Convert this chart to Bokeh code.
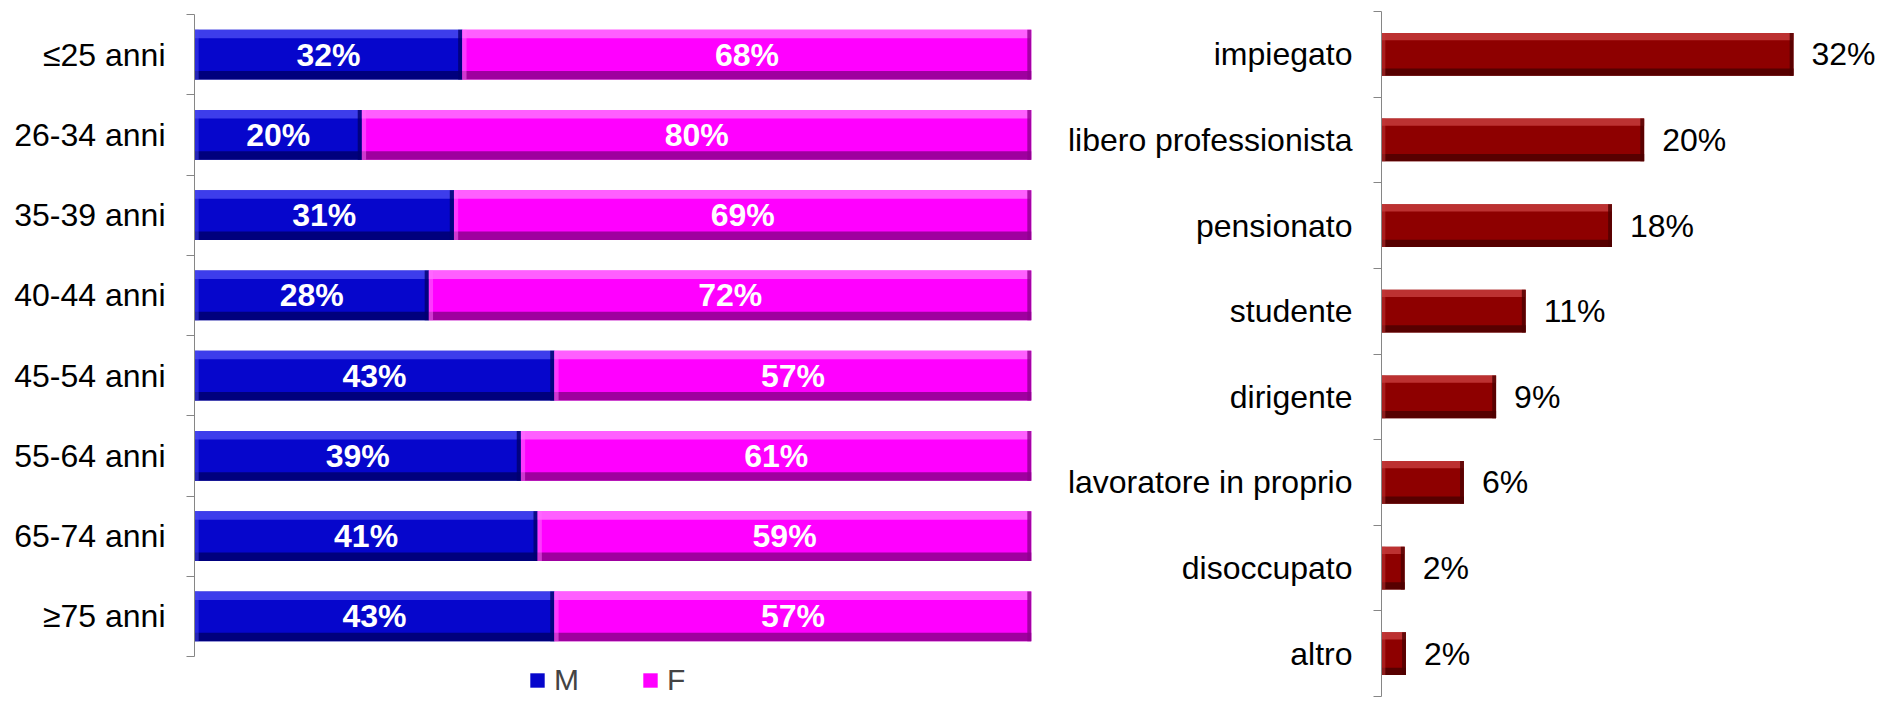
from bokeh.plotting import figure
from bokeh.models import Range1d, FixedTicker, Legend, LegendItem
from bokeh.layouts import row
from bokeh.embed import file_html
from bokeh.resources import INLINE
from bokeh.core.properties import value

# ---------------- data ----------------
age_groups = ["≤25 anni", "26-34 anni", "35-39 anni", "40-44 anni",
              "45-54 anni", "55-64 anni", "65-74 anni", "≥75 anni"]
male_pct = [32, 20, 31, 28, 43, 39, 41, 43]
female_pct = [68, 80, 69, 72, 57, 61, 59, 57]

professions = ["impiegato", "libero professionista", "pensionato", "studente",
               "dirigente", "lavoratore in proprio", "disoccupato", "altro"]
prof_pct = [32.0, 20.4, 17.9, 11.2, 8.9, 6.4, 1.8, 1.9]

FONT = "Liberation Sans"
AXIS_GREY = "#868686"


def setup_cat_axis(p, cats):
    n = len(cats)
    centers = [n - i - 0.5 for i in range(n)]
    bounds = [float(i) for i in range(n + 1)]
    ax = p.yaxis[0]
    ax.ticker = FixedTicker(ticks=centers, minor_ticks=bounds)
    ax.major_label_overrides = {c: name for c, name in zip(centers, cats)}
    ax.bounds = (0, n)
    ax.major_tick_out = 0
    ax.major_tick_in = 0
    ax.minor_tick_out = 8
    ax.minor_tick_in = 0
    ax.axis_line_color = AXIS_GREY
    ax.minor_tick_line_color = AXIS_GREY
    ax.major_label_standoff = 21
    ax.major_label_text_font = FONT
    ax.major_label_text_font_size = "32px"
    ax.major_label_text_color = "black"
    p.xaxis.visible = False
    p.xgrid.visible = False
    p.ygrid.visible = False
    p.outline_line_color = None
    return centers


def bevel_bars(p, y, left, right, height, base, light, dark, edge_w):
    main = p.hbar(y=y, left=left, right=right, height=height,
                  fill_color=base, line_color=None)
    s = 0.17 * height
    p.hbar(y=[v + height / 2 - s / 2 for v in y], left=left, right=right,
           height=s, fill_color=light, line_color=None, fill_alpha=0.85)
    p.hbar(y=[v - height / 2 + s / 2 for v in y], left=left, right=right,
           height=s, fill_color=dark, line_color=None, fill_alpha=0.85)
    p.hbar(y=y, left=[r - edge_w for r in right], right=right, height=height,
           fill_color=dark, line_color=None, fill_alpha=0.8)
    p.hbar(y=y, left=left, right=[l + edge_w for l in left], height=height,
           fill_color=light, line_color=None, fill_alpha=0.5)
    return main


# both frames share the same top and bottom (px from the page top)
FRAME_TOP = 11
FRAME_BOTTOM = 696
HEIGHT = 703
BAND_LEFT = 80.25  # px per age band; bands span y 14..656
n1 = len(age_groups)
y1_top = n1 + (14 - FRAME_TOP) / BAND_LEFT
y1_bot = -(FRAME_BOTTOM - 656) / BAND_LEFT

# ---------------- left chart ----------------
p1 = figure(width=1048, height=HEIGHT, output_backend="svg", toolbar_location=None,
            x_range=Range1d(0, 100), y_range=Range1d(y1_bot, y1_top),
            min_border_left=194, min_border_right=17,
            min_border_top=FRAME_TOP, min_border_bottom=HEIGHT - FRAME_BOTTOM)
yc1 = setup_cat_axis(p1, age_groups)

m_left = [0] * len(male_pct)
m_right = list(male_pct)
f_left = list(male_pct)
f_right = [m + f for m, f in zip(male_pct, female_pct)]

r_m = bevel_bars(p1, yc1, m_left, m_right, 0.62, "#0606CC", "#4848F0", "#00006E", 0.5)
r_f = bevel_bars(p1, yc1, f_left, f_right, 0.62, "#FF00FF", "#FF70FF", "#8E008E", 0.5)

p1.text(x=[(a + b) / 2 for a, b in zip(m_left, m_right)], y=yc1,
        text=[f"{v}%" for v in male_pct], text_align="center",
        text_baseline="middle", text_color="white", text_font=value(FONT),
        text_font_size="32px", text_font_style="bold")
p1.text(x=[(a + b) / 2 for a, b in zip(f_left, f_right)], y=yc1,
        text=[f"{v}%" for v in female_pct], text_align="center",
        text_baseline="middle", text_color="white", text_font=value(FONT),
        text_font_size="32px", text_font_style="bold")

legend = Legend(items=[LegendItem(label="M", renderers=[r_m]),
                       LegendItem(label="F", renderers=[r_f])],
                orientation="horizontal", location=(334, -1),
                padding=0, margin=0, spacing=62, label_standoff=8,
                glyph_width=18, glyph_height=18,
                label_text_font=FONT, label_text_font_size="30px",
                border_line_color=None, background_fill_alpha=0)
p1.add_layout(legend, "center")

# ---------------- right chart ----------------
p2 = figure(width=830, height=HEIGHT, output_backend="svg", toolbar_location=None,
            x_range=Range1d(0, 38.6), y_range=Range1d(0, len(professions)),
            min_border_left=333, min_border_right=0,
            min_border_top=FRAME_TOP, min_border_bottom=HEIGHT - FRAME_BOTTOM)
yc2 = setup_cat_axis(p2, professions)

bevel_bars(p2, yc2, [0] * len(prof_pct), prof_pct, 0.5,
           "#8E0000", "#C43A3A", "#4E0000", 0.3)
p2.text(x=prof_pct, y=yc2, text=[f"{round(v)}%" for v in prof_pct],
        x_offset=18, text_align="left", text_baseline="middle",
        text_color="black", text_font=value(FONT), text_font_size="32px")

layout = row(p1, p2)
open("out.html", "w").write(file_html(layout, INLINE))
